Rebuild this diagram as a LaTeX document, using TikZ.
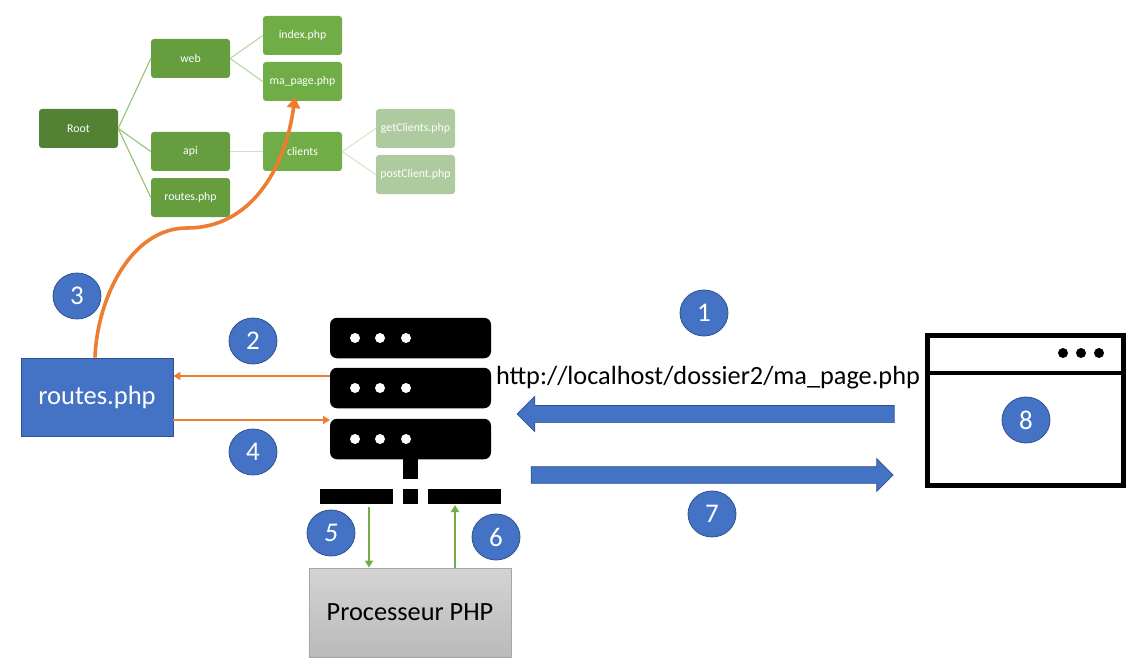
\documentclass[tikz,border=0pt]{standalone}
\usepackage{fontspec}
\setmainfont{Carlito}
\usetikzlibrary{arrows.meta,shapes.arrows,shapes.geometric}
\definecolor{blueA}{HTML}{4472C4}
\definecolor{blueB}{HTML}{2F528F}
\definecolor{orangeA}{HTML}{ED7D31}
\definecolor{greenA}{HTML}{70AD47}
\definecolor{greenB}{HTML}{548235}
\definecolor{greenC}{HTML}{659D3F}
\definecolor{greenD}{HTML}{AECB9F}
\begin{document}
\begin{tikzpicture}[x=1pt,y=-1pt,>={Triangle[length=7pt,width=8pt]},
    treebox/.style={rounded corners=3pt,minimum width=79pt,minimum height=39pt,inner sep=0pt,text=white,font=\fontsize{11.8}{14}\selectfont},
    badge/.style={ellipse,fill=blueA,draw=blueB,line width=.8pt,minimum width=48pt,minimum height=46pt,inner sep=0pt,text=white,font=\fontsize{27}{30}\selectfont},
    rack/.style={fill=black,rounded corners=7pt,minimum width=161pt,minimum height=40.5pt,inner sep=0pt},
    bar/.style={fill=black,minimum height=15pt,inner sep=0pt},
    flow/.style={single arrow,fill=blueA,draw=blueB,line width=.7pt,single arrow head extend=9pt,minimum height=377pt,inner sep=0pt}]
    \useasboundingbox(0,0)rectangle(1147,671);
    % tree of files
    \node[treebox,fill=greenB](root)at(78.5,128.5){Root};
    \node[treebox,fill=greenC](web)at(190.5,58.5){web};
    \node[treebox,fill=greenC](api)at(190.5,151.5){api};
    \node[treebox,fill=greenC](treeroutes)at(190.5,197.5){routes.php};
    \node[treebox,fill=greenA](index)at(302.5,35.5){index.php};
    \node[treebox,fill=greenA](mapage)at(302.5,81.5){ma\_page.php};
    \node[treebox,fill=greenA](clients)at(302.5,151.5){clients};
    \node[treebox,fill=greenD](getc)at(415.5,128.5){getClients.php};
    \node[treebox,fill=greenD](postc)at(415.5,174.5){postClient.php};
    \draw[greenA!75!white,line width=1.1pt](root.east)--(web.west);
    \draw[greenA!75!white,line width=1.1pt](root.east)--(api.west);
    \draw[greenA!75!white,line width=1.1pt](root.east)--(treeroutes.west);
    \draw[greenA!50!white,line width=1.1pt](web.east)--(index.west);
    \draw[greenA!50!white,line width=1.1pt](web.east)--(mapage.west);
    \draw[greenA!35!white,line width=1.1pt](api.east)--(clients.west);
    \draw[greenA!30!white,line width=1.1pt](clients.east)--(getc.west);
    \draw[greenA!30!white,line width=1.1pt](clients.east)--(postc.west);
    % server
    \node[rack](srva)at(410.5,338){};
    \node[rack](srvb)at(410.5,388){};
    \node[rack](srvc)at(410.5,439){};
    \foreach \y in {338,388,439}
        \foreach \x in {355,380,406}
            \fill[white](\x,\y)circle(5);
    \node[fill=black,minimum width=15pt,minimum height=20pt,inner sep=0pt](stem)at(410.5,469){};
    \node[bar,minimum width=73pt](barl)at(356.5,496.5){};
    \node[bar,minimum width=15pt](barm)at(410.5,496.5){};
    \node[bar,minimum width=73pt](barr)at(464.5,496.5){};
    % processor
    \node[top color=black!17,bottom color=black!27,draw=black!35,line width=.8pt,minimum width=202pt,minimum height=89pt,inner sep=0pt,font=\fontsize{26.3}{30}\selectfont](proc)at(410,612.5){Processeur PHP};
    \coordinate(down)at(369,507);
    \coordinate(up)at(455,505);
    \draw[->,greenA,line width=1.8pt](down)--(down|-proc.north);
    \draw[->,greenA,line width=1.8pt](up|-proc.north)--(up);
    % routes file
    \node[fill=blueA,draw=blueB,line width=.8pt,minimum width=152pt,minimum height=78pt,inner sep=0pt,text=white,font=\fontsize{26.5}{30}\selectfont](routes)at(97,397){routes.php};
    \coordinate(out)at(330,376);
    \coordinate(back)at(330,420);
    \draw[->,orangeA,line width=2.4pt](out)--(routes.east|-out);
    \draw[->,orangeA,line width=2.4pt](routes.east|-back)--(back);
    \coordinate(bend)at(187,228);
    \coordinate(tip)at(295,97);
    \draw[->,orangeA,line width=3.6pt,>={Triangle[length=11pt,width=13pt]}]([xshift=-2pt]routes.north)..controls(97,300)and(130,228)..(bend)..controls(250,228)and(285,170)..(tip);
    % browser
    \node[draw=black,line width=5pt,minimum width=196pt,minimum height=150pt,inner sep=0pt](win)at(1025.5,410.5){};
    \coordinate(split)at(1025.5,373);
    \draw[line width=4.5pt](win.west|-split)--(win.east|-split);
    \foreach \x in {1063,1081,1099}
        \fill(\x,353)circle(5);
    % requests
    \node[flow,shape border rotate=180](req)at(710,414){\rule{0pt}{16.5pt}};
    \node[flow,minimum height=362pt,single arrow head extend=8pt](resp)at(708,475){\rule{0pt}{16pt}};
    \node[font=\fontsize{26.3}{30}\selectfont](url)at(708,378){http://localhost/dossier2/ma\_page.php};
    % steps
    \node[badge](n1)at(704,313){1};
    \node[badge](n2)at(253,341){2};
    \node[badge](n3)at(77,296){3};
    \node[badge](n4)at(253,452){4};
    \node[badge,font=\fontsize{27}{30}\selectfont\itshape](n5)at(331,533){5};
    \node[badge](n6)at(496,537){6};
    \node[badge](n7)at(712,514){7};
    \node[badge](n8)at(1026,420){8};
\end{tikzpicture}
\end{document}
